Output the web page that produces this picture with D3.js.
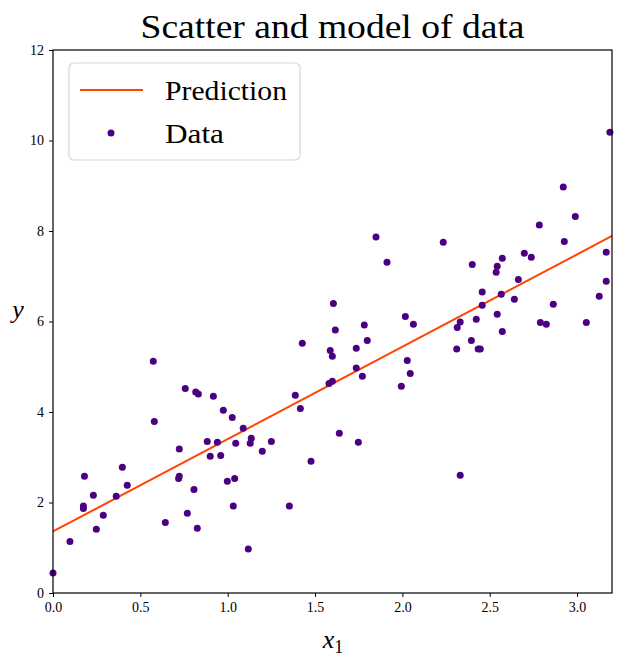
<!DOCTYPE html>
<html>
<head>
<meta charset="utf-8">
<script src="https://cdn.jsdelivr.net/npm/d3@7"></script>
<style>
body { margin: 0; background: #fff; }
text { font-family: "Liberation Serif", "DejaVu Serif", serif; }
</style>
</head>
<body>
<svg id="chart" width="627" height="668"></svg>
<script>
// scatter data
var xData = [0.0, 0.097, 0.174, 0.174, 0.18, 0.231, 0.248, 0.288, 0.362, 0.397, 0.425,
	0.574, 0.58, 0.643, 0.723, 0.719, 0.723, 0.757, 0.769, 0.807, 0.817, 0.832, 0.826,
	0.883, 0.9, 0.918, 0.941, 0.96, 0.975, 0.998, 1.026, 1.032, 1.04, 1.046,
	1.089, 1.135, 1.129, 1.198, 1.25, 1.118, 1.353, 1.387, 1.416, 1.427, 1.477,
	1.58, 1.599, 1.587, 1.599, 1.605, 1.616, 1.639, 1.736, 1.736, 1.748, 1.771, 1.782, 1.799,
	1.849, 1.912, 1.994, 2.017, 2.028, 2.045, 2.063,
	2.234, 2.4, 2.331, 2.311, 2.314, 2.331, 2.395, 2.423, 2.434, 2.446, 2.457, 2.457,
	2.537, 2.543, 2.572, 2.543, 2.566, 2.572, 2.641, 2.664, 2.698, 2.738, 2.784, 2.79,
	2.824, 2.864, 2.921, 2.927, 2.99, 3.053, 3.127, 3.167, 3.167, 3.188]
var yData = [0.44, 1.14, 1.92, 1.87, 2.58, 2.16, 1.41, 1.72, 2.14, 2.78, 2.38,
	5.12, 3.79, 1.56, 3.18, 2.53, 2.58, 4.52, 1.76, 2.29, 4.44, 4.40, 1.43,
	3.35, 3.02, 4.35, 3.33, 3.04, 4.04, 2.47, 3.88, 1.92, 2.53, 3.31,
	3.64, 3.42, 3.31, 3.13, 3.35, 0.97, 1.92, 4.37, 4.08, 5.52, 2.91,
	4.63, 4.68, 5.36, 5.23, 6.40, 5.81, 3.53, 5.41, 4.97, 3.33, 4.79, 5.92, 5.58,
	7.87, 7.31, 4.57, 6.11, 5.14, 4.85, 5.94,
	7.75, 7.26, 2.60, 5.39, 5.87, 5.99, 5.58, 6.05, 5.39, 5.39, 6.65, 6.36,
	7.09, 7.22, 7.40, 6.16, 6.60, 5.78, 6.49, 6.93, 7.51, 7.42, 8.13, 5.98,
	5.94, 6.38, 8.97, 7.77, 8.32, 5.98, 6.56, 7.53, 6.89, 10.18]

// model line
var xPred = [0, 3.2]
var yPred = [1.36, 7.89]

var xTicks = [0, 0.5, 1.0, 1.5, 2.0, 2.5, 3.0]
var yTicks = [0, 2, 4, 6, 8, 10, 12]
var legendLabels = ["Prediction", "Data"]

var dotColor = "#4b0082", lineColor = "#ff4500"
var margin = {left: 53, top: 50, right: 15, bottom: 75}
var width = 627, height = 668
var w = width - margin.left - margin.right, h = height - margin.top - margin.bottom

var svg = d3.select("#chart")
var g = svg.append("g").attr("transform", "translate(" + margin.left + "," + margin.top + ")")

var x = d3.scaleLinear().domain([0, 3.2]).range([0, w])
var y = d3.scaleLinear().domain([0, 12]).range([h, 0])

var points = xData.map(function(d, i) { return {x: d, y: yData[i]} })
var pred = xPred.map(function(d, i) { return {x: d, y: yPred[i]} })

g.append("defs").append("clipPath").attr("id", "clip")
	.append("rect").attr("width", w).attr("height", h)

g.append("path")
	.datum(pred)
	.attr("clip-path", "url(#clip)")
	.attr("fill", "none")
	.attr("stroke", lineColor)
	.attr("stroke-width", 2)
	.attr("d", d3.line().x(function(d) { return x(d.x) }).y(function(d) { return y(d.y) }))

g.append("g").selectAll("circle").data(points).enter().append("circle")
	.attr("cx", function(d) { return x(d.x) })
	.attr("cy", function(d) { return y(d.y) })
	.attr("r", 3.5)
	.attr("fill", dotColor)

// axes
var xAxis = g.append("g").attr("transform", "translate(0," + h + ")")
	.call(d3.axisBottom(x).tickValues(xTicks).tickFormat(d3.format(".1f")).tickSize(4).tickPadding(5))
var yAxis = g.append("g")
	.call(d3.axisLeft(y).tickValues(yTicks).tickFormat(d3.format("d")).tickSize(4).tickPadding(5))
;[xAxis, yAxis].forEach(function(a) {
	a.select(".domain").remove()
	a.selectAll("line").attr("stroke", "#000").attr("stroke-width", 1)
	a.selectAll("text").attr("fill", "#000").style("font-size", "14px")
		.style("font-family", "'Liberation Serif', serif")
})

g.append("rect").attr("width", w).attr("height", h)
	.attr("fill", "none").attr("stroke", "#000").attr("stroke-width", 1.2)

// title and labels
svg.append("text").attr("x", margin.left + w / 2).attr("y", 38)
	.attr("text-anchor", "middle").style("font-size", "33px")
	.attr("textLength", 384).attr("lengthAdjust", "spacingAndGlyphs")
	.text("Scatter and model of data")

var xl = svg.append("text").attr("x", 333).attr("y", 648)
	.attr("text-anchor", "middle").style("font-size", "26px").style("font-style", "italic")
xl.append("tspan").text("x")
xl.append("tspan").attr("dy", 5).style("font-size", "18px").style("font-style", "normal").text("1")

svg.append("text").attr("x", 18).attr("y", 318)
	.attr("text-anchor", "middle").style("font-size", "26px").style("font-style", "italic")
	.text("y")

// legend
var lg = g.append("g").attr("transform", "translate(16,13)")
lg.append("rect").attr("width", 231).attr("height", 97).attr("rx", 5)
	.attr("fill", "#fff").attr("fill-opacity", 0.8)
	.attr("stroke", "#d6d6d6").attr("stroke-width", 1.2)
lg.append("line").attr("x1", 11).attr("x2", 74).attr("y1", 27).attr("y2", 27)
	.attr("stroke", lineColor).attr("stroke-width", 2)
lg.append("circle").attr("cx", 42).attr("cy", 70).attr("r", 3.5).attr("fill", dotColor)
var legendWidths = [122, 59]
lg.selectAll("text.lbl").data(legendLabels).enter().append("text")
	.attr("class", "lbl")
	.attr("x", 96)
	.attr("y", function(d, i) { return 37 + i * 43 })
	.attr("textLength", function(d, i) { return legendWidths[i] })
	.attr("lengthAdjust", "spacingAndGlyphs")
	.style("font-size", "28px")
	.text(function(d) { return d })
</script>
</body>
</html>
